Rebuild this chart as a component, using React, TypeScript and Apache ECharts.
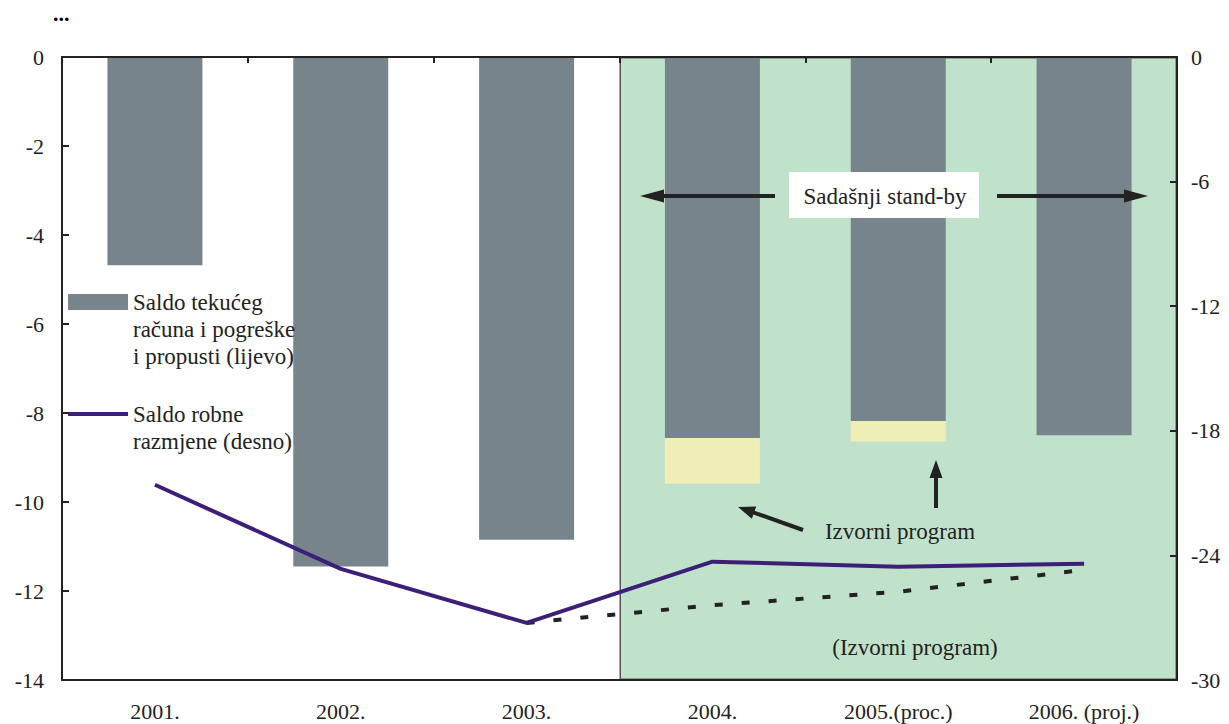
import React, { useEffect, useRef } from "react";
import * as echarts from "echarts";

const categories = ["2001.", "2002.", "2003.", "2004.", "2005.(proc.)", "2006. (proj.)"];
const currentAccount = [-4.68, -11.45, -10.85, -8.56, -8.18, -8.5];
const originalProgramExtra = [null, null, null, -1.03, -0.46, null];
const tradeBalance = [-20.6, -24.65, -27.25, -24.3, -24.55, -24.4];
const tradeBalanceOriginal = [null, null, -27.25, -26.4, -25.75, -24.7];
const programPeriods = ["2001.–2003.", "2004.–2006."];
const programBand = [null, -14];

const leftMin = -14;
const leftMax = 0;
const leftInterval = 2;
const rightMin = -30;
const rightMax = 0;
const rightInterval = 6;

const NAME_CA = "Saldo tekućeg računa i pogreške i propusti (lijevo)";
const NAME_TB = "Saldo robne razmjene (desno)";
// leading blank lines keep the legend marker level with the first text line
const legendLabels: Record<string, string> = {
  [NAME_CA]: "\n\nSaldo tekućeg\nračuna i pogreške\ni propusti (lijevo)",
  [NAME_TB]: "\nSaldo robne\nrazmjene (desno)",
};

const FONT = "Liberation Serif";
const INK = "#222222";
const TB_COLOR = "#3d1f78";

function arrow(x1: number, y1: number, x2: number, y2: number, headLen: number, headW: number, w = 4) {
  const ang = Math.atan2(y2 - y1, x2 - x1);
  const c = Math.cos(ang);
  const s = Math.sin(ang);
  const bx = x2 - headLen * c;
  const by = y2 - headLen * s;
  return [
    {
      type: "line",
      z: 20,
      shape: { x1, y1, x2: bx + c, y2: by + s },
      style: { stroke: INK, lineWidth: w },
    },
    {
      type: "polygon",
      z: 20,
      shape: {
        points: [
          [x2, y2],
          [bx - (headW / 2) * s, by + (headW / 2) * c],
          [bx + (headW / 2) * s, by - (headW / 2) * c],
        ],
      },
      style: { fill: INK },
    },
  ];
}

export default function App() {
  const ref = useRef<HTMLDivElement>(null);

  useEffect(() => {
    if (!ref.current) return;
    const chart = echarts.init(ref.current, null, { renderer: "svg" });
    const axisText = { color: INK, fontFamily: FONT, fontSize: 22 };
    const legendText = { color: INK, fontFamily: FONT, fontSize: 23, lineHeight: 27 };
    const option: any = {
      animation: false,
      backgroundColor: "#ffffff",
      textStyle: { fontFamily: FONT },
      grid: { left: 62, right: 52, top: 57, bottom: 44, containLabel: false },
      legend: [
        {
          data: [{ name: NAME_CA, icon: "rect" }],
          orient: "vertical",
          left: 68,
          top: 234.5,
          padding: 0,
          itemWidth: 60,
          itemHeight: 16,
          formatter: (n: string) => legendLabels[n] || n,
          textStyle: legendText,
        },
        {
          data: [{ name: NAME_TB, icon: "rect" }],
          orient: "vertical",
          left: 68,
          top: 373.5,
          padding: 0,
          itemWidth: 60,
          itemHeight: 4,
          formatter: (n: string) => legendLabels[n] || n,
          textStyle: legendText,
          itemStyle: { color: TB_COLOR },
        },
      ],
      xAxis: [
        {
          type: "category",
          data: categories,
          position: "bottom",
          z: 10,
          axisLine: { onZero: false, lineStyle: { color: INK, width: 2 } },
          axisTick: { show: false },
          axisLabel: { ...axisText, margin: 20 },
        },
        {
          type: "category",
          data: programPeriods,
          show: false,
        },
        {
          type: "category",
          data: categories,
          position: "top",
          z: 10,
          axisLine: { onZero: false, lineStyle: { color: INK, width: 2 } },
          axisTick: { show: true, inside: true, length: 6, lineStyle: { color: INK, width: 2 } },
          axisLabel: { show: false },
        },
      ],
      yAxis: [
        {
          type: "value",
          min: leftMin,
          max: leftMax,
          interval: leftInterval,
          position: "left",
          z: 10,
          axisLine: { show: true, lineStyle: { color: INK, width: 2 } },
          axisTick: { show: true, inside: true, length: 7, lineStyle: { color: INK, width: 2 } },
          axisLabel: { ...axisText, margin: 18 },
          splitLine: { show: false },
        },
        {
          type: "value",
          min: rightMin,
          max: rightMax,
          interval: rightInterval,
          position: "right",
          z: 10,
          axisLine: { show: true, lineStyle: { color: INK, width: 2 } },
          axisTick: { show: true, inside: true, length: 7, lineStyle: { color: INK, width: 2 } },
          axisLabel: { ...axisText, margin: 14 },
          splitLine: { show: false },
        },
      ],
      series: [
        {
          name: "Stand-by razdoblje",
          type: "bar",
          xAxisIndex: 1,
          yAxisIndex: 0,
          data: programBand,
          barCategoryGap: "0%",
          itemStyle: { color: "#c0e2ca", borderColor: "#555555", borderWidth: 1.5 },
          z: 1,
          silent: true,
        },
        {
          name: NAME_CA,
          type: "bar",
          xAxisIndex: 0,
          yAxisIndex: 0,
          stack: "ca",
          data: currentAccount,
          barWidth: 95,
          itemStyle: { color: "#78848c" },
          z: 2,
        },
        {
          name: "Izvorni program",
          type: "bar",
          xAxisIndex: 0,
          yAxisIndex: 0,
          stack: "ca",
          data: originalProgramExtra,
          barWidth: 95,
          itemStyle: { color: "#eeeeb6" },
          z: 2,
        },
        {
          name: NAME_TB,
          type: "line",
          xAxisIndex: 0,
          yAxisIndex: 1,
          data: tradeBalance,
          symbol: "none",
          lineStyle: { color: TB_COLOR, width: 4 },
          itemStyle: { color: TB_COLOR },
          z: 4,
        },
        {
          name: "Saldo robne razmjene (Izvorni program)",
          type: "line",
          xAxisIndex: 0,
          yAxisIndex: 1,
          data: tradeBalanceOriginal,
          symbol: "none",
          lineStyle: { color: INK, width: 4, type: [8, 19] },
          itemStyle: { color: INK },
          z: 3,
        },
      ],
      graphic: [
        {
          type: "text",
          x: 53,
          y: 2,
          style: { text: "...", fill: "#000", font: `bold 22px ${FONT}` },
        },
        {
          type: "rect",
          z: 20,
          shape: { x: 789, y: 172, width: 190, height: 46 },
          style: { fill: "#ffffff" },
        },
        {
          type: "text",
          z: 21,
          x: 885,
          y: 196,
          style: {
            text: "Sadašnji stand-by",
            fill: INK,
            font: `23px ${FONT}`,
            align: "center",
            verticalAlign: "middle",
          },
        },
        ...arrow(775, 196, 640, 196, 24, 13),
        ...arrow(997, 196, 1148, 196, 24, 13),
        ...arrow(803, 530, 738, 507, 17, 13),
        ...arrow(936, 508, 936, 460, 18, 13),
        {
          type: "text",
          z: 20,
          x: 900,
          y: 531,
          style: {
            text: "Izvorni program",
            fill: INK,
            font: `23px ${FONT}`,
            align: "center",
            verticalAlign: "middle",
          },
        },
        {
          type: "text",
          z: 20,
          x: 915,
          y: 647,
          style: {
            text: "(Izvorni program)",
            fill: INK,
            font: `23px ${FONT}`,
            align: "center",
            verticalAlign: "middle",
          },
        },
      ],
    };
    chart.setOption(option);
    return () => chart.dispose();
  }, []);

  return (
    <div
      ref={ref}
      style={{ position: "absolute", left: 0, top: 0, width: 1229, height: 724 }}
    />
  );
}
